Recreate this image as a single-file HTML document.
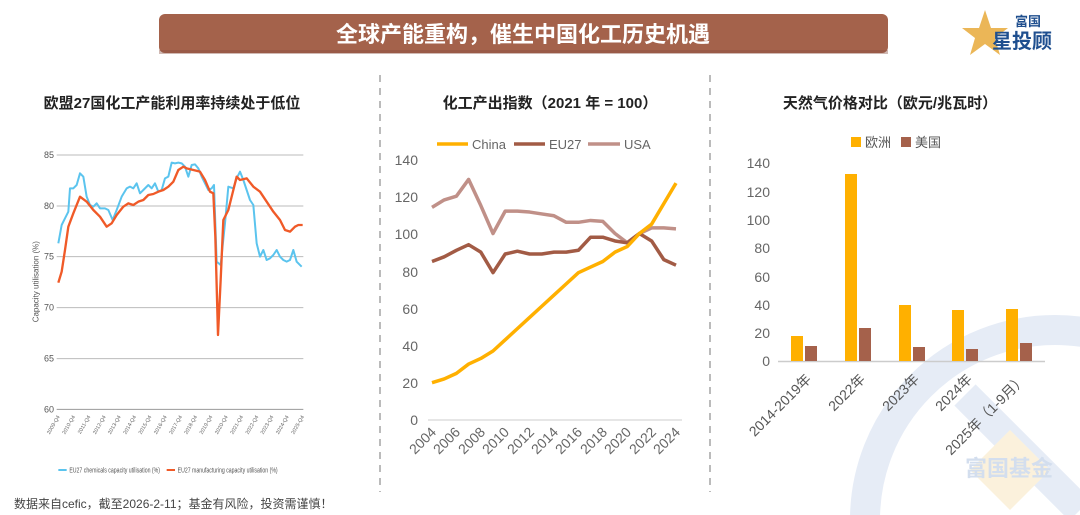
<!DOCTYPE html>
<html><head><meta charset="utf-8"><style>
html,body{margin:0;padding:0;width:1080px;height:515px;background:#fff;overflow:hidden;font-family:"Liberation Sans","Noto Sans CJK SC",sans-serif;}
svg{display:block;overflow:hidden}
</style></head><body>
<svg width="1080" height="515" viewBox="0 0 1080 515" xmlns="http://www.w3.org/2000/svg" style="position:absolute;left:0;top:0;font-family:'Liberation Sans','Noto Sans CJK SC',sans-serif">
<defs><clipPath id="c"><rect x="0" y="0" width="1080" height="515"/></clipPath></defs>
<!-- watermark -->
<g clip-path="url(#c)">
<circle cx="1055" cy="520" r="190" fill="none" stroke="#e6ecf6" stroke-width="30"/>
<path d="M965 395 L1080 510" stroke="#e6ecf6" stroke-width="30" fill="none"/>
<polygon points="1010,430 1050,470 1010,510 970,470" fill="#fbf1dc"/>
</g>
<text x="965" y="476" font-size="22" font-weight="bold" fill="#d3deee">富国基金</text>
<!-- banner -->
<rect x="159" y="14" width="729" height="39" rx="6" fill="#a4624b"/>
<rect x="159" y="50" width="729" height="4" fill="#8a5040" opacity="0.4"/>
<text x="523" y="42" font-size="22" font-weight="bold" fill="#fff" text-anchor="middle">全球产能重构，催生中国化工历史机遇</text>
<!-- logo -->
<polygon points="985,10 991,28 1008,28 995,38 1000,55 985,44 970,55 975,38 962,28 979,28" fill="#e8a93a" opacity="0.85"/>
<text x="1028" y="26" font-size="13" font-weight="bold" fill="#1f4f8f" text-anchor="middle">富国</text>
<text x="1022" y="48" font-size="20" font-weight="bold" fill="#1f4f8f" text-anchor="middle">星投顾</text>
<!-- separators -->
<line x1="380" y1="75" x2="380" y2="492" stroke="#bbb" stroke-width="2" stroke-dasharray="7,6"/>
<line x1="710" y1="75" x2="710" y2="492" stroke="#bbb" stroke-width="2" stroke-dasharray="7,6"/>
<!-- titles -->
<text x="172" y="108" font-size="15" font-weight="bold" fill="#222" text-anchor="middle">欧盟27国化工产能利用率持续处于低位</text>
<text x="550" y="108" font-size="15" font-weight="bold" fill="#222" text-anchor="middle">化工产出指数（2021 年 = 100）</text>
<text x="890" y="108" font-size="15" font-weight="bold" fill="#222" text-anchor="middle">天然气价格对比（欧元/兆瓦时）</text>

<!-- chart 1 -->
<g transform="translate(20,130) scale(0.33333)">
<g stroke="#bbb" stroke-width="3">
<line x1="110" y1="75" x2="850" y2="75"/><line x1="110" y1="228" x2="850" y2="228"/><line x1="110" y1="380" x2="850" y2="380"/><line x1="110" y1="533" x2="850" y2="533"/><line x1="110" y1="686" x2="850" y2="686"/><line x1="110" y1="838" x2="850" y2="838" stroke="#999"/>
</g>
<g font-size="27" fill="#555" text-anchor="end">
<text x="102" y="84">85</text><text x="102" y="237">80</text><text x="102" y="389">75</text><text x="102" y="542">70</text><text x="102" y="695">65</text><text x="102" y="847">60</text>
</g>
<text transform="translate(55,455) rotate(-90)" font-size="24" fill="#555" text-anchor="middle">Capacity utilisation (%)</text>
<polyline fill="none" stroke="#5bc4ee" stroke-width="6" stroke-linejoin="round" points="115,340 125,285 135,265 145,245 150,175 160,175 170,165 180,130 190,140 200,200 210,225 220,230 230,220 240,235 255,235 265,240 278,270 290,240 305,200 320,175 330,170 340,175 350,160 360,190 370,180 385,165 395,175 405,160 415,185 425,180 435,145 445,140 455,98 465,100 475,98 485,100 495,110 505,140 515,105 525,103 535,115 545,140 555,160 565,180 575,175 582,165 590,395 602,405 615,280 625,170 640,175 650,145 660,125 670,150 680,180 690,210 700,225 710,340 720,380 730,360 740,390 750,385 760,375 770,360 780,380 790,390 800,395 810,390 820,360 830,395 845,410"/>
<polyline fill="none" stroke="#f05a28" stroke-width="7" stroke-linejoin="round" points="115,458 125,425 135,360 145,290 160,250 180,200 200,215 220,240 240,260 260,290 275,280 290,255 310,230 325,220 340,225 355,215 370,210 385,195 400,192 415,185 430,180 445,170 460,155 475,120 490,110 500,115 520,120 540,125 555,150 570,185 580,190 586,320 594,615 602,450 610,270 625,240 640,180 650,140 660,150 680,145 700,170 720,185 740,215 760,245 780,270 795,300 810,305 825,290 835,285 848,285"/>
<g font-size="16" fill="#666" text-anchor="end">
<text transform="translate(120,860) rotate(-60)">2009-Q4</text><text transform="translate(166,860) rotate(-60)">2010-Q4</text><text transform="translate(212,860) rotate(-60)">2011-Q4</text><text transform="translate(258,860) rotate(-60)">2012-Q4</text><text transform="translate(303,860) rotate(-60)">2013-Q4</text><text transform="translate(349,860) rotate(-60)">2014-Q4</text><text transform="translate(395,860) rotate(-60)">2015-Q4</text><text transform="translate(441,860) rotate(-60)">2016-Q4</text><text transform="translate(487,860) rotate(-60)">2017-Q4</text><text transform="translate(532,860) rotate(-60)">2018-Q4</text><text transform="translate(578,860) rotate(-60)">2019-Q4</text><text transform="translate(624,860) rotate(-60)">2020-Q4</text><text transform="translate(670,860) rotate(-60)">2021-Q4</text><text transform="translate(716,860) rotate(-60)">2022-Q4</text><text transform="translate(761,860) rotate(-60)">2023-Q4</text><text transform="translate(807,860) rotate(-60)">2024-Q4</text><text transform="translate(853,860) rotate(-60)">2025-Q4</text>
</g>
<line x1="115" y1="1020" x2="140" y2="1020" stroke="#5bc4ee" stroke-width="6"/>
<text x="148" y="1028" font-size="22" fill="#555" textLength="272" lengthAdjust="spacingAndGlyphs">EU27 chemicals capacity utilisation (%)</text>
<line x1="440" y1="1020" x2="465" y2="1020" stroke="#f05a28" stroke-width="6"/>
<text x="473" y="1028" font-size="22" fill="#555" textLength="300" lengthAdjust="spacingAndGlyphs">EU27 manufacturing capacity utilisation (%)</text>
</g>

<!-- chart 2 -->
<g font-size="13" fill="#666">
<line x1="437" y1="144" x2="468" y2="144" stroke="#ffb000" stroke-width="3.5"/><text x="472" y="149">China</text>
<line x1="514" y1="144" x2="545" y2="144" stroke="#a25b45" stroke-width="3.5"/><text x="549" y="149">EU27</text>
<line x1="588" y1="144" x2="620" y2="144" stroke="#c09088" stroke-width="3.5"/><text x="624" y="149">USA</text>
</g>
<line x1="428" y1="420" x2="682" y2="420" stroke="#ccc" stroke-width="1"/>
<g font-size="14" fill="#666" text-anchor="end">
<text x="418" y="165">140</text><text x="418" y="202">120</text><text x="418" y="239">100</text><text x="418" y="277">80</text><text x="418" y="314">60</text><text x="418" y="351">40</text><text x="418" y="388">20</text><text x="418" y="425">0</text>
</g>
<g font-size="14" fill="#666" text-anchor="end">
<text transform="translate(437,433) rotate(-45)">2004</text><text transform="translate(461,433) rotate(-45)">2006</text><text transform="translate(486,433) rotate(-45)">2008</text><text transform="translate(510,433) rotate(-45)">2010</text><text transform="translate(535,433) rotate(-45)">2012</text><text transform="translate(559,433) rotate(-45)">2014</text><text transform="translate(583,433) rotate(-45)">2016</text><text transform="translate(608,433) rotate(-45)">2018</text><text transform="translate(632,433) rotate(-45)">2020</text><text transform="translate(657,433) rotate(-45)">2022</text><text transform="translate(681,433) rotate(-45)">2024</text>
</g>
<g transform="translate(432,420) scale(12.2,-1.865)" fill="none" stroke-linejoin="round">
<polyline vector-effect="non-scaling-stroke" stroke="#c09088" stroke-width="3.5" points="0,114 1,118 2,120 3,129 4,115 5,100 6,112 7,112 8,111.5 9,110.5 10,109.5 11,106 12,106 13,107 14,106.5 15,100 16,95 17,100 18,103 19,103 20,102.5"/>
<polyline vector-effect="non-scaling-stroke" stroke="#a25b45" stroke-width="3.5" points="0,85 1,87.5 2,91 3,94 4,90 5,79 6,89 7,90.5 8,89 9,89 10,90 11,90 12,91 13,98 14,98 15,96 16,95 17,100 18,96 19,86 20,83"/>
<polyline vector-effect="non-scaling-stroke" stroke="#ffb000" stroke-width="3.5" points="0,20 1,22 2,25 3,30 4,33 5,37 6,43 7,49 8,55 9,61 10,67 11,73 12,79 13,82 14,85 15,90 16,93 17,100 18,105 19,116 20,127"/>
</g>

<!-- chart 3 -->
<rect x="851" y="137" width="10" height="10" fill="#ffb000"/><text x="865" y="147" font-size="13" fill="#555">欧洲</text>
<rect x="901" y="137" width="10" height="10" fill="#a5614b"/><text x="915" y="147" font-size="13" fill="#555">美国</text>
<g font-size="14" fill="#666" text-anchor="end">
<text x="770" y="168">140</text><text x="770" y="197">120</text><text x="770" y="225">100</text><text x="770" y="253">80</text><text x="770" y="282">60</text><text x="770" y="310">40</text><text x="770" y="338">20</text><text x="770" y="366">0</text>
</g>
<line x1="778" y1="361.5" x2="1045" y2="361.5" stroke="#ccc" stroke-width="1.5"/>
<g fill="#ffb000">
<rect x="791" y="336" width="12" height="25"/><rect x="845" y="174" width="12" height="187"/><rect x="899" y="305" width="12" height="56"/><rect x="952" y="310" width="12" height="51"/><rect x="1006" y="309" width="12" height="52"/>
</g>
<g fill="#a5614b">
<rect x="805" y="346" width="12" height="15"/><rect x="859" y="328" width="12" height="33"/><rect x="913" y="347" width="12" height="14"/><rect x="966" y="349" width="12" height="12"/><rect x="1020" y="343" width="12" height="18"/>
</g>
<g font-size="14" fill="#555" text-anchor="end">
<text transform="translate(812,380) rotate(-45)">2014-2019年</text>
<text transform="translate(866,380) rotate(-45)">2022年</text>
<text transform="translate(920,380) rotate(-45)">2023年</text>
<text transform="translate(973,380) rotate(-45)">2024年</text>
<text transform="translate(1027,380) rotate(-45)">2025年（1-9月）</text>
</g>

<text x="14" y="508" font-size="12" fill="#444">数据来自cefic，截至2026-2-11；基金有风险，投资需谨慎！</text>
</svg>
</body></html>
